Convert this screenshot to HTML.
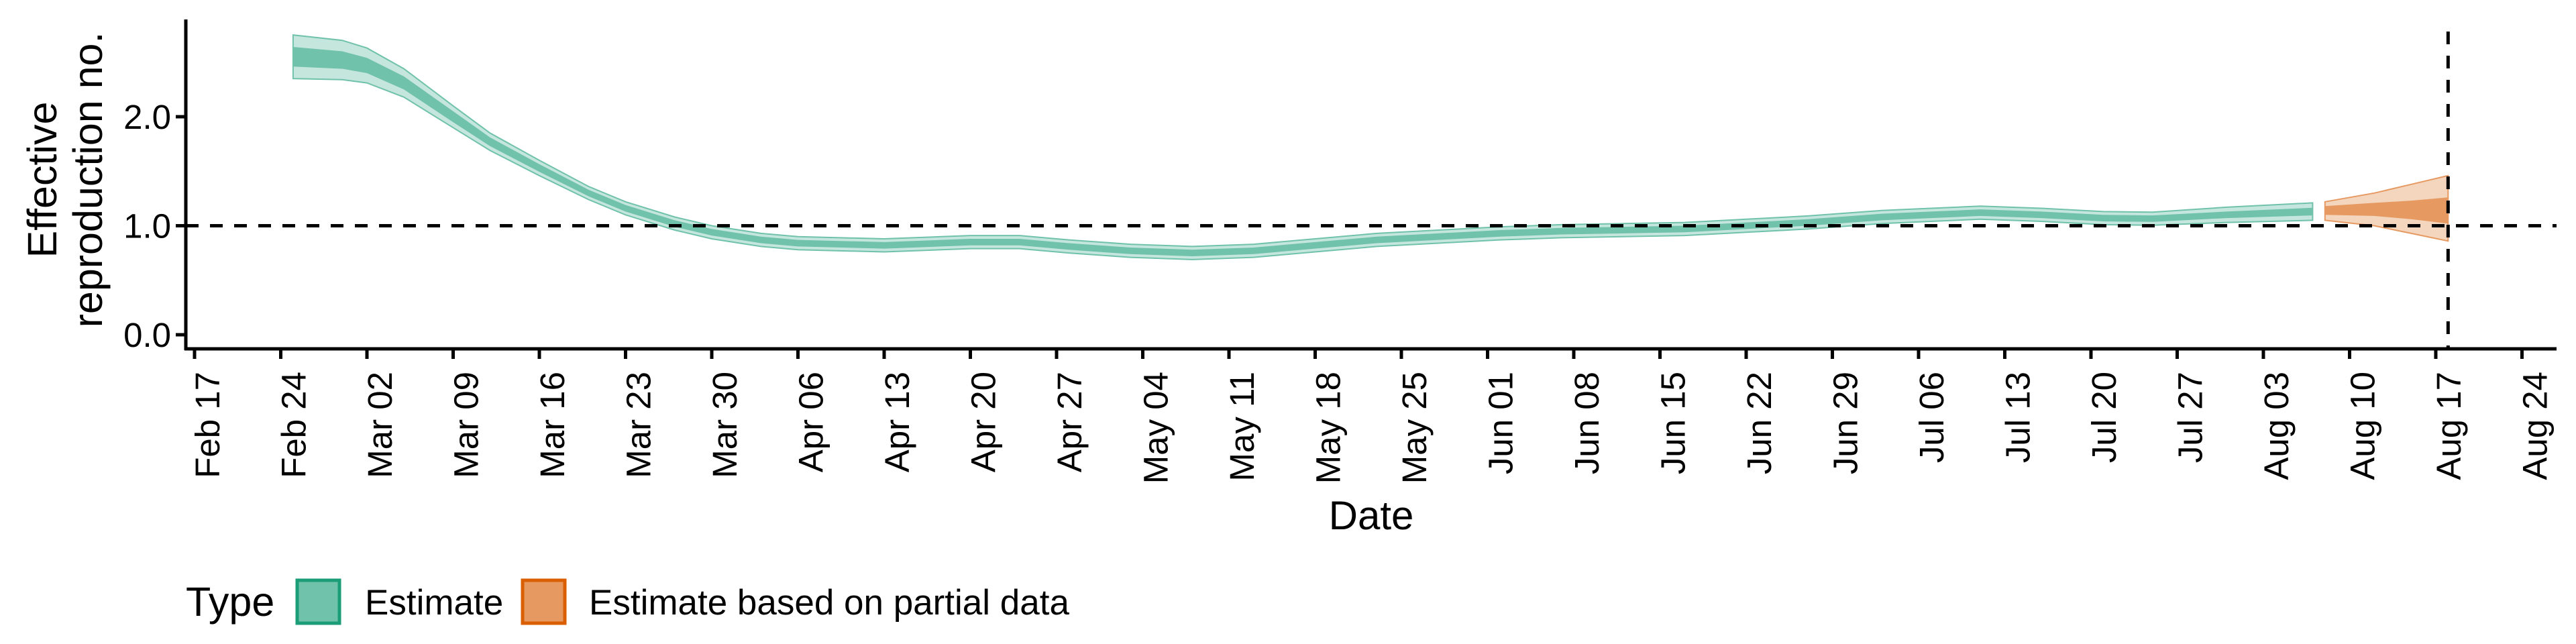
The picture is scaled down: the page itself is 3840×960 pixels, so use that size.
<!DOCTYPE html>
<html><head><meta charset="utf-8"><style>
html,body{margin:0;padding:0;background:#fff}
svg{display:block;font-family:"Liberation Sans",Arial,sans-serif}
</style></head><body>
<svg id="chart" width="3840" height="960" viewBox="0 0 3840 960" xmlns="http://www.w3.org/2000/svg">
<g id="bands"></g>
<g id="axes"></g>
<g>
  <text x="277" y="918" font-size="61">Type</text>
  <rect x="443" y="865" width="63" height="64" fill="#70c2aa" stroke="#1b9e77" stroke-width="5"/>
  <text x="544" y="916" font-size="53">Estimate</text>
  <rect x="779" y="865" width="63" height="64" fill="#e69a62" stroke="#d95f02" stroke-width="5"/>
  <text x="878" y="916" font-size="53">Estimate based on partial data</text>
</g>
</svg>
<script>
// days since Feb 17 (2020)
const estDays = [8,12,14,17,21,24,28,32,35,39,42,46,49,56,63,67,71,76,81,86,91,96,101,106,111,116,121,126,131,137,141,145,150,155,159,165,172];
const estMedian = [2.55,2.52,2.47,2.31,2.0,1.77,1.53,1.30,1.16,1.02,0.94,0.87,0.84,0.82,0.85,0.85,0.81,0.77,0.75,0.77,0.82,0.87,0.90,0.93,0.95,0.96,0.97,1.00,1.03,1.08,1.10,1.12,1.10,1.07,1.065,1.10,1.13];
const estHalf50 = [0.09,0.08,0.07,0.06,0.05,0.04,0.035,0.03,0.03,0.03,0.03,0.03,0.03,0.03,0.03,0.03,0.03,0.03,0.03,0.03,0.03,0.03,0.03,0.03,0.03,0.03,0.03,0.03,0.03,0.03,0.03,0.03,0.03,0.03,0.03,0.03,0.035];
const estHalf90 = [0.20,0.18,0.16,0.13,0.10,0.08,0.07,0.06,0.06,0.06,0.06,0.06,0.06,0.06,0.06,0.06,0.06,0.06,0.06,0.06,0.06,0.06,0.06,0.06,0.06,0.06,0.06,0.06,0.06,0.06,0.06,0.06,0.06,0.06,0.06,0.07,0.08];
const partDays = [173,177,180,183];
const partLo90 = [1.05,1.00,0.93,0.86];
const partLo50 = [1.10,1.09,1.06,1.02];
const partHi50 = [1.18,1.21,1.23,1.26];
const partHi90 = [1.22,1.30,1.38,1.46];
const xTickLabels = ["Feb 17","Feb 24","Mar 02","Mar 09","Mar 16","Mar 23","Mar 30","Apr 06","Apr 13","Apr 20","Apr 27","May 04","May 11","May 18","May 25","Jun 01","Jun 08","Jun 15","Jun 22","Jun 29","Jul 06","Jul 13","Jul 20","Jul 27","Aug 03","Aug 10","Aug 17","Aug 24"];
const yTicks = [0,1,2];
const yTickLabels = ["0.0","1.0","2.0"];
const refY = 1.0;
const cutoffDay = 183;

const NS="http://www.w3.org/2000/svg";
const L=277,R=3811,T=29,B=520;
const xs = d => 290 + d*18.357;
const ys = v => 499 - v*162.5;
function mk(tag, attrs, parent){const e=document.createElementNS(NS,tag);for(const k in attrs)e.setAttribute(k,attrs[k]);parent.appendChild(e);return e;}
function band(days, lo, hi){
  let p="M"+days.map((d,i)=>xs(d).toFixed(1)+","+ys(hi[i]).toFixed(1)).join("L");
  for(let i=days.length-1;i>=0;i--) p+="L"+xs(days[i]).toFixed(1)+","+ys(lo[i]).toFixed(1);
  return p+"Z";
}
const bands=document.getElementById('bands'), axes=document.getElementById('axes');
const eLo90=estMedian.map((m,i)=>m-estHalf90[i]), eHi90=estMedian.map((m,i)=>m+estHalf90[i]);
const eLo50=estMedian.map((m,i)=>m-estHalf50[i]), eHi50=estMedian.map((m,i)=>m+estHalf50[i]);
let e;
e=mk('path',{d:band(estDays,eLo90,eHi90),fill:'#c4e6dc',stroke:'#70c2aa','stroke-width':2},bands);


e=mk('path',{d:band(estDays,eLo50,eHi50),fill:'#70c2aa'},bands);


e=mk('path',{d:band(partDays,partLo90,partHi90),fill:'#f4d5bd',stroke:'#e69a62','stroke-width':2},bands);


e=mk('path',{d:band(partDays,partLo50,partHi50),fill:'#e69a62'},bands);



e=mk('line',{x1:L,x2:R,y1:ys(refY),y2:ys(refY),stroke:'#000','stroke-width':5,'stroke-dasharray':'19 17'},axes);


e=mk('line',{x1:xs(cutoffDay),x2:xs(cutoffDay),y1:T+18,y2:B,stroke:'#000','stroke-width':5,'stroke-dasharray':'19 17'},axes);


e=mk('line',{x1:L,x2:L,y1:T,y2:B+2,stroke:'#000','stroke-width':5},axes);


e=mk('line',{x1:L-2,x2:R,y1:B,y2:B,stroke:'#000','stroke-width':5},axes);


yTicks.forEach((v,i)=>{
  let t=mk('line',{x1:L-15,x2:L,y1:ys(v),y2:ys(v),stroke:'#000','stroke-width':5},axes);
  
  
  let tx=mk('text',{x:L-22,y:ys(v)+18,'text-anchor':'end','font-size':51},axes);
  tx.textContent=yTickLabels[i];
  
  
});
xTickLabels.forEach((lab,i)=>{
  const x=xs(i*7);
  let t=mk('line',{x1:x,x2:x,y1:B,y2:B+15,stroke:'#000','stroke-width':5},axes);
  
  
  let tx=mk('text',{x:x+37,y:554,'text-anchor':'end','font-size':51,transform:`rotate(-90 ${x+37} 554)`},axes);
  tx.textContent=lab;
  
  
});
e=mk('text',{x:2044,y:789,'text-anchor':'middle','font-size':60},axes);
e.textContent='Date';


e=mk('text',{x:0,y:0,'text-anchor':'middle','font-size':61,transform:'translate(0,268) rotate(-90)'},axes);


const s1=mk('tspan',{x:0,y:84},e); s1.textContent='Effective';
const s2=mk('tspan',{x:0,y:152},e); s2.textContent='reproduction no.';
</script>
</body></html>
